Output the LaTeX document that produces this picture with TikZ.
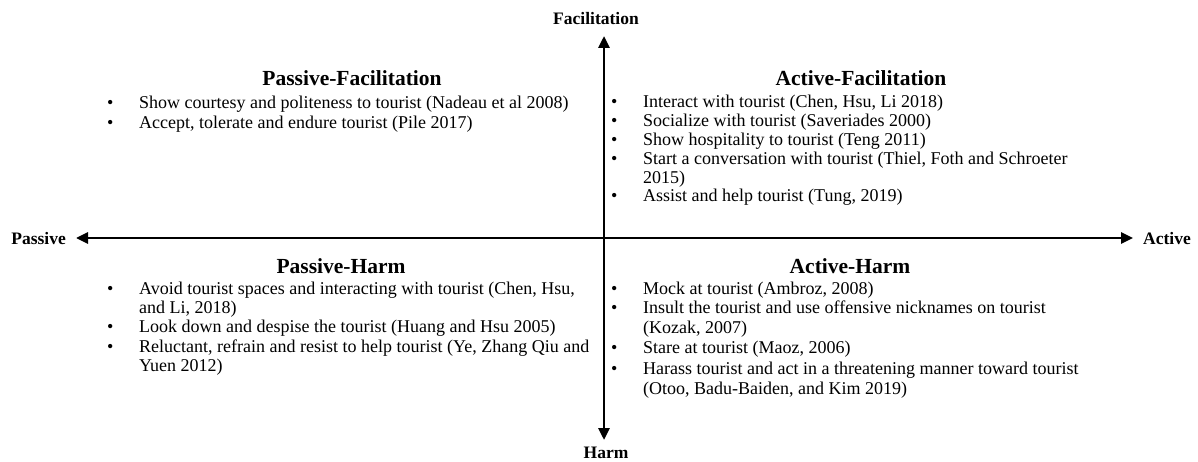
\documentclass[tikz,border=0pt]{standalone}
\usepackage{fontspec}
\setmainfont{Liberation Serif}
\usetikzlibrary{arrows.meta}
\begin{document}
\begin{tikzpicture}[x=1pt,y=-1pt,
  body/.style={font=\fontsize{18}{20}\selectfont, inner sep=0pt, anchor=base west},
  ttl/.style={font=\fontsize{21.5}{24}\selectfont\bfseries, inner sep=0pt, anchor=base},
  axl/.style={font=\fontsize{17.5}{20}\selectfont\bfseries, inner sep=0pt},
  axis/.style={line width=2.8pt, {Triangle[length=12pt,width=11pt]}-{Triangle[length=12pt,width=11pt]}}
]
\useasboundingbox (0,0) rectangle (1198,462);
% axis labels
\node[axl, anchor=base east] (pas) at (66,244) {Passive};
\node[axl, anchor=base west] (act) at (1143,244) {Active};
\node[axl, anchor=base] (fac) at (596,25) {Facilitation};
\node[axl, anchor=base] (harm) at (606,458) {Harm};
\coordinate (L) at (76,238);
\coordinate (R) at (1133,238);
\coordinate (T) at (604,36);
\coordinate (B) at (604,440);
\draw[axis] (L) -- (R);
\draw[axis] (T) -- (B);
% titles
\node[ttl] (pft) at (352,86) {Passive-Facilitation};
\node[ttl] (aft) at (861,86) {Active-Facilitation};
\node[ttl] (pht) at (341,273) {Passive-Harm};
\node[ttl] (aht) at (850,273) {Active-Harm};
% Passive-Facilitation
\node[body] (pf1b) at (107,109) {•};
\node[body] (pf1) at (139,109) {Show courtesy and politeness to tourist (Nadeau et al 2008)};
\node[body] (pf2b) at (107,129) {•};
\node[body] (pf2) at (139,129) {Accept, tolerate and endure tourist (Pile 2017)};
% Active-Facilitation
\node[body] (af1b) at (611,108) {•};
\node[body] (af1) at (643,108) {Interact with tourist (Chen, Hsu, Li 2018)};
\node[body] (af2b) at (611,127) {•};
\node[body] (af2) at (643,127) {Socialize with tourist (Saveriades 2000)};
\node[body] (af3b) at (611,146) {•};
\node[body] (af3) at (643,146) {Show hospitality to tourist (Teng 2011)};
\node[body] (af4b) at (611,165) {•};
\node[body] (af4) at (643,165) {Start a conversation with tourist (Thiel, Foth and Schroeter};
\node[body] (af4c) at (643,183.5) {2015)};
\node[body] (af5b) at (611,202) {•};
\node[body] (af5) at (643,202) {Assist and help tourist (Tung, 2019)};
% Passive-Harm
\node[body] (ph1b) at (107,294) {•};
\node[body] (ph1) at (139,294) {Avoid tourist spaces and interacting with tourist (Chen, Hsu,};
\node[body] (ph1c) at (139,313) {and Li, 2018)};
\node[body] (ph2b) at (107,332) {•};
\node[body] (ph2) at (139,332) {Look down and despise the tourist (Huang and Hsu 2005)};
\node[body] (ph3b) at (107,352) {•};
\node[body] (ph3) at (139,352) {Reluctant, refrain and resist to help tourist (Ye, Zhang Qiu and};
\node[body] (ph3c) at (139,371) {Yuen 2012)};
% Active-Harm
\node[body] (ah1b) at (611,294) {•};
\node[body] (ah1) at (643,294) {Mock at tourist (Ambroz, 2008)};
\node[body] (ah2b) at (611,313) {•};
\node[body] (ah2) at (643,313) {Insult the tourist and use offensive nicknames on tourist};
\node[body] (ah2c) at (643,333) {(Kozak, 2007)};
\node[body] (ah3b) at (611,353) {•};
\node[body] (ah3) at (643,353) {Stare at tourist (Maoz, 2006)};
\node[body] (ah4b) at (611,374) {•};
\node[body] (ah4) at (643,374) {Harass tourist and act in a threatening manner toward tourist};
\node[body] (ah4c) at (643,394) {(Otoo, Badu-Baiden, and Kim 2019)};
\end{tikzpicture}
\end{document}
